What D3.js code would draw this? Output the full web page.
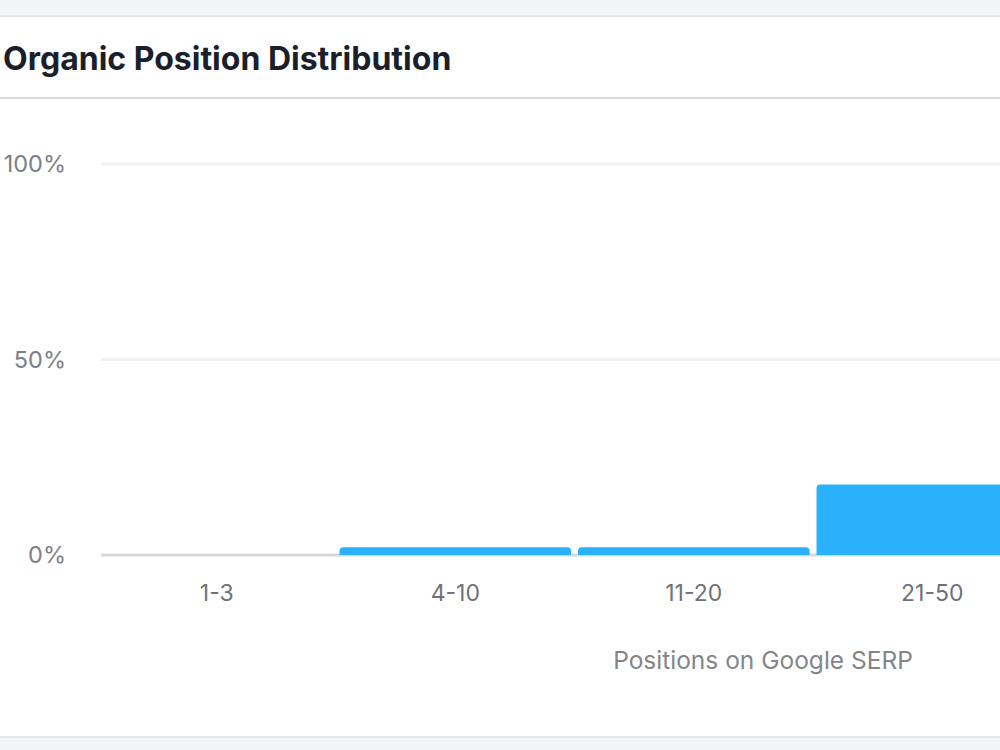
<!DOCTYPE html>
<html>
<head>
<meta charset="utf-8">
<script src="https://cdn.jsdelivr.net/npm/d3@7"></script>
<style>
  html, body { margin: 0; padding: 0; overflow: hidden; background: #f3f4f8; }
  body { width: 1000px; height: 750px; font-family: Inter, "Noto Sans", sans-serif; }
</style>
</head>
<body>
<div id="chart"></div>
<script>
// data (the card is cropped on the right, only these show)
var categories = ["1-3", "4-10", "11-20", "21-50"];
var shares = [0, 2, 2, 18];
var yTicks = [0, 50, 100];
var yTickLabels = ["0%", "50%", "100%"];

var width = 1526, height = 750;
var margin = {left: 101};

var svg = d3.select("#chart").append("svg")
    .attr("width", width)
    .attr("height", height)
    .style("display", "block");

// card
svg.append("rect")
    .attr("x", -10).attr("y", 16)
    .attr("width", width + 20).attr("height", 721)
    .attr("fill", "#ffffff")
    .attr("stroke", "#e4e6eb").attr("stroke-width", 2);

svg.append("text")
    .attr("x", 3).attr("y", 70)
    .attr("fill", "#1b1f2b")
    .style("font-size", "32px")
    .style("font-weight", 700)
    .text("Organic Position Distribution");

svg.append("line")
    .attr("x1", 0).attr("x2", width)
    .attr("y1", 98).attr("y2", 98)
    .attr("stroke", "#d8dade").attr("stroke-width", 2);

var x = d3.scaleBand()
    .domain(categories)
    .range([margin.left, margin.left + 238.5 * (categories.length - 0.029)])
    .paddingInner(0.029)
    .paddingOuter(0);

var y = d3.scaleLinear()
    .domain([0, 100])
    .range([555, 164]);

// grid
var grid = svg.append("g");
grid.selectAll("line")
    .data(yTicks)
  .enter().append("line")
    .attr("x1", margin.left).attr("x2", width)
    .attr("y1", function(d) { return y(d); })
    .attr("y2", function(d) { return y(d); })
    .attr("stroke", function(d) { return d === 0 ? "#d6d9de" : "#eef0f3"; })
    .attr("stroke-width", 3);

grid.selectAll("text")
    .data(yTicks)
  .enter().append("text")
    .attr("x", 66)
    .attr("y", function(d) { return y(d); })
    .attr("dy", "0.35em")
    .attr("text-anchor", "end")
    .attr("fill", "#7d7f84")
    .style("font-size", "23.5px")
    .text(function(d, i) { return yTickLabels[i]; });

// bars with rounded top corners
function barPath(d, i) {
  var x0 = x(categories[i]), w = x.bandwidth();
  var y0 = y(0), y1 = y(d);
  var r = Math.min(4, (y0 - y1) / 2);
  if (y0 - y1 <= 0) return "";
  return "M" + x0 + "," + y0 +
    "V" + (y1 + r) +
    "Q" + x0 + "," + y1 + " " + (x0 + r) + "," + y1 +
    "H" + (x0 + w - r) +
    "Q" + (x0 + w) + "," + y1 + " " + (x0 + w) + "," + (y1 + r) +
    "V" + y0 + "Z";
}

svg.append("g")
    .selectAll("path")
    .data(shares)
  .enter().append("path")
    .attr("d", barPath)
    .attr("fill", "#2bb0fc");

// x labels
svg.append("g")
    .selectAll("text")
    .data(categories)
  .enter().append("text")
    .attr("x", function(d) { return x(d) + x.bandwidth() / 2; })
    .attr("y", 593)
    .attr("dy", "0.35em")
    .attr("text-anchor", "middle")
    .attr("fill", "#6f7177")
    .style("font-size", "23px")
    .text(function(d) { return d; });

svg.append("text")
    .attr("x", width / 2)
    .attr("y", 660)
    .attr("dy", "0.35em")
    .attr("text-anchor", "middle")
    .attr("fill", "#838589")
    .style("font-size", "24.5px")
    .text("Positions on Google SERP");
</script>
</body>
</html>
